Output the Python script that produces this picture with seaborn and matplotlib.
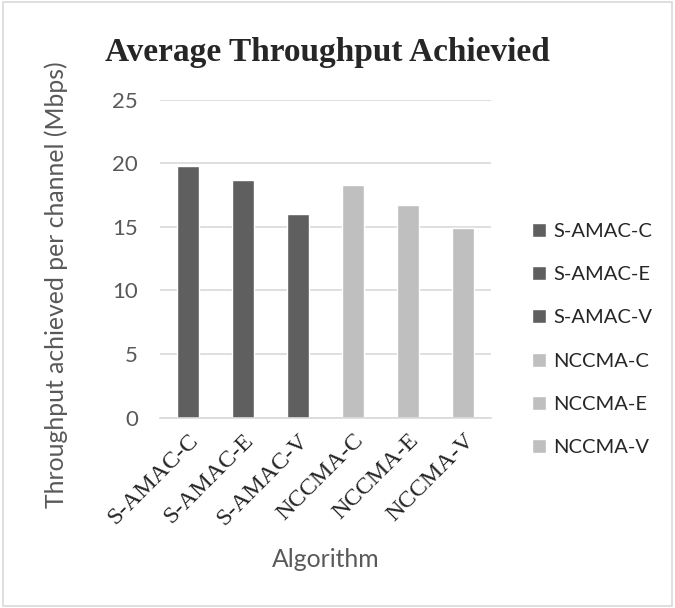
import numpy as np
import pandas as pd
import seaborn as sns
import matplotlib.pyplot as plt
from matplotlib.patches import Rectangle

algorithms = ['S-AMAC-C', 'S-AMAC-E', 'S-AMAC-V', 'NCCMA-C', 'NCCMA-E', 'NCCMA-V']
throughput = [19.8, 18.7, 16.0, 18.3, 16.7, 14.9]
colors = ['#5f5f5f', '#5f5f5f', '#5f5f5f', '#bfbfbf', '#bfbfbf', '#bfbfbf']

dat = pd.DataFrame({'Algorithm': algorithms, 'Throughput': throughput})

sns.set_style('white')
plt.rcParams['font.family'] = ['Lato', 'DejaVu Sans']
serif = ['Liberation Serif', 'DejaVu Serif']

fig = plt.figure(figsize=(6.75, 6.08), dpi=100)
ax = fig.add_axes([160/675, 1 - 417.5/608, 331/675, (417.5 - 99.5)/608])

sns.barplot(data=dat, x='Algorithm', y='Throughput', hue='Algorithm',
            palette=dict(zip(algorithms, colors)), dodge=False, width=0.4,
            saturation=1, legend=True, ax=ax)

ax.set_ylim(0, 25)
ax.set_yticks(np.arange(0, 26, 5))
ax.yaxis.grid(True, color='#d9d9d9', linewidth=1.2)
ax.set_axisbelow(True)
for s in ['top', 'right', 'left']:
    ax.spines[s].set_visible(False)
ax.spines['bottom'].set_color('#d9d9d9')
ax.spines['bottom'].set_linewidth(1.2)
ax.tick_params(axis='y', length=0, labelsize=16, labelcolor='#595959', pad=16)
ax.tick_params(axis='x', length=0, pad=9)
ax.set_xticks(range(len(algorithms)))
ax.set_xticklabels(algorithms, rotation=45, ha='right', rotation_mode='anchor',
                   fontsize=17.5)
for t in ax.get_xticklabels():
    t.set_family(serif)

ax.set_xlabel('Algorithm', fontsize=17.8, color='#595959')
ax.set_ylabel('Throughput achieved per channel (Mbps)', fontsize=17.8,
              color='#595959')
ax.xaxis.set_label_coords(0.5, (417.5 - 548) / 318)
ax.yaxis.set_label_coords((68 - 160) / 331, (417.5 - 285) / 318)

fig.text(327/675, 1 - 52/608, 'Average Throughput Achievied',
         ha='center', va='center', fontsize=24, fontweight='bold', family=serif)

leg = ax.legend(loc='center left', bbox_to_anchor=(532/675, 1 - 339.5/608),
                bbox_transform=fig.transFigure, frameon=False, borderpad=0,
                borderaxespad=0, fontsize=14.5, handlelength=0.7, handleheight=0.7,
                handletextpad=0.35, labelspacing=1.3)

# light frame around the figure
fig.patches.append(Rectangle((0.004, 0.004), 0.992, 0.992, transform=fig.transFigure,
                             fill=False, edgecolor='#d9d9d9', linewidth=1.2))

plt.savefig('out.png', dpi=100)
